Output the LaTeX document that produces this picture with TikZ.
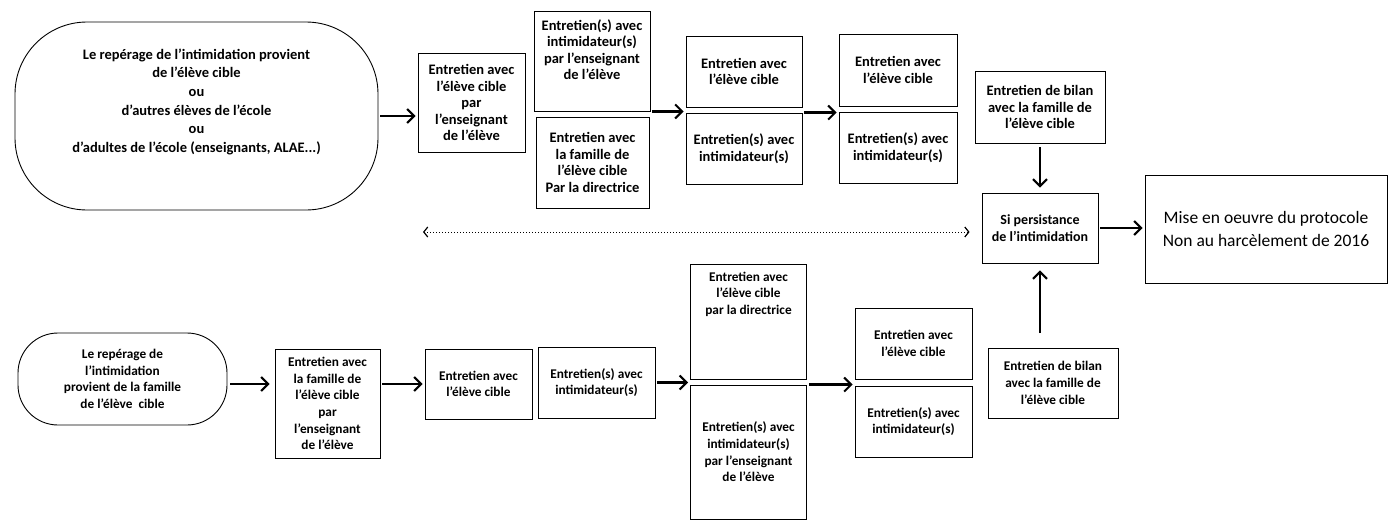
\documentclass[tikz,border=0pt]{standalone}
\usepackage{fontspec}
\setmainfont{Carlito}
\usetikzlibrary{arrows.meta}

\begin{document}
\begin{tikzpicture}
[x=1pt,y=-1pt,%
  every node/.style={draw,line width=0.9pt,align=center,inner sep=2pt,%
    font=\bfseries\fontsize{14.5}{16.5}\selectfont},%
  box/.style={rectangle},%
  lowbox/.style={rectangle,font=\bfseries\fontsize{13.3}{16.7}\selectfont},%
  roundbox/.style={rectangle,rounded corners=#1},%
  arr/.style={line width=2.4pt,shorten <=2pt,shorten >=2pt,%
    -{Straight Barb[length=7pt,width=14pt,line width=2pt]}},%
  dotarr/.style={dotted,line width=1pt,%
    {Straight Barb[length=4pt,width=10pt,line width=1.2pt]}-{Straight Barb[length=4pt,width=10pt,line width=1.2pt]}}]
\useasboundingbox (0,0) rectangle (1392,523);
% top row
\node[roundbox=72,minimum width=363,minimum height=188,font=\bfseries\fontsize{14.5}{18.7}\selectfont] (rep) at (196.5,116)
  {Le repérage de l'intimidation provient\\de l'élève cible\\ou\\d'autres élèves de l'école\\ou\\d'adultes de l'école (enseignants, ALAE...)\\[12pt]};
\node[box,minimum width=107,minimum height=99] (eleve1) at (471.5,102.5)
  {Entretien avec\\l'élève cible\\par\\l'enseignant\\de l'élève};
\node[box,minimum width=116,minimum height=100] (intim1) at (592,61)
  {Entretien(s) avec\\intimidateur(s)\\par l'enseignant\\de l'élève\\[6pt]};
\node[box,minimum width=113,minimum height=91] (fam1) at (592.5,162.5)
  {Entretien avec\\la famille de\\l'élève cible\\Par la directrice};
\node[box,minimum width=116,minimum height=71] (eleve2) at (744,71.5)
  {Entretien avec\\l'élève cible};
\node[box,minimum width=116,minimum height=71] (intim2) at (744,148.5)
  {Entretien(s) avec\\intimidateur(s)};
\node[box,minimum width=118,minimum height=72] (eleve3) at (898,70)
  {Entretien avec\\l'élève cible};
\node[box,minimum width=118,minimum height=71] (intim3) at (898,147.5)
  {Entretien(s) avec\\intimidateur(s)};
\node[box,minimum width=130,minimum height=72] (bilan1) at (1040,107)
  {Entretien de bilan\\avec la famille de\\l'élève cible};
\node[box,minimum width=116,minimum height=70,font=\bfseries\fontsize{14}{17}\selectfont] (si) at (1040,228)
  {Si persistance\\de l'intimidation};
\node[box,minimum width=242,minimum height=108,font=\fontsize{17.5}{23}\selectfont] (mise) at (1266,229)
  {Mise en oeuvre du protocole\\Non au harcèlement de 2016};
% bottom row
\node[roundbox=40,lowbox,minimum width=209,minimum height=92] (repB) at (122.5,379)
  {Le repérage de\\l'intimidation\\provient de la famille\\de l'élève~~cible};
\node[lowbox,minimum width=105,minimum height=109] (famB) at (327.5,403.5)
  {Entretien avec\\la famille de\\l'élève cible\\par\\l'enseignant\\de l'élève};
\node[lowbox,minimum width=107,minimum height=70] (eleveB) at (478.5,384)
  {Entretien avec\\l'élève cible};
\node[lowbox,minimum width=117,minimum height=71] (intimB) at (596.5,382.5)
  {Entretien(s) avec\\intimidateur(s)};
\node[lowbox,minimum width=116,minimum height=115] (dirB) at (748.5,321.5)
  {Entretien avec\\l'élève cible\\par la directrice\\[40pt]};
\node[lowbox,minimum width=116,minimum height=134] (ensB) at (748.5,452)
  {Entretien(s) avec\\intimidateur(s)\\par l'enseignant\\de l'élève};
\node[lowbox,minimum width=117,minimum height=71] (eleveC) at (913.5,343.5)
  {Entretien avec\\l'élève cible};
\node[lowbox,minimum width=117,minimum height=71] (intimC) at (913.5,421.5)
  {Entretien(s) avec\\intimidateur(s)};
\node[lowbox,minimum width=130,minimum height=70] (bilan2) at (1053,383)
  {Entretien de bilan\\avec la famille de\\l'élève cible};
\coordinate (dotl) at (423,232);
\coordinate (upb) at (1040,335);
% arrows
\draw[arr] (rep.east) -- (rep.east -| eleve1.west);
\draw[arr] (intim1.south east) -- (intim1.south east -| eleve2.west);
\draw[arr] (intim2.north east) -- (intim2.north east -| eleve3.west);
\draw[arr,shorten <=4pt,shorten >=5pt] (bilan1.south) -- (si.north);
\draw[arr] (si.east) -- (si.east -| mise.west);
\draw[arr,shorten >=7pt] (upb) -- (si.south);
\draw[dotarr,shorten >=12pt] (dotl) -- (dotl -| si.west);
\draw[arr,shorten <=3pt,shorten >=5pt] (repB.east |- eleveB.west) -- (famB.west |- eleveB.west);
\draw[arr] (famB.east |- eleveB.west) -- (eleveB.west);
\draw[arr] (intimB.east) -- (intimB.east -| dirB.west);
\draw[arr] (ensB.north east) -- (ensB.north east -| intimC.west);
\end{tikzpicture}
\end{document}
